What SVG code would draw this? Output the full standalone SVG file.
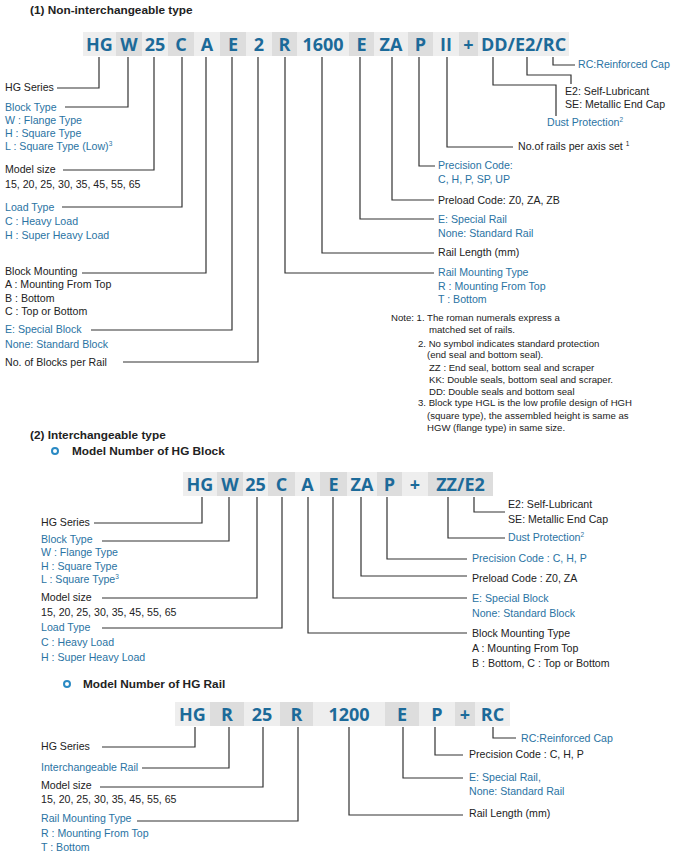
<svg xmlns="http://www.w3.org/2000/svg" width="674" height="856" viewBox="0 0 674 856">
<style>
.bg{fill:#ffffff}
.lt{fill:#eeeeee}
.dk{fill:#dddddd}
.code{font-family:"Open Sans","Liberation Sans",sans-serif;font-weight:700;font-size:18px;fill:#1c6a99;text-anchor:middle}
.lbl{font-family:"Liberation Sans",Arial,sans-serif;font-size:10.6px;fill:#222222}
.blu{fill:#2a73a3}
.note{font-family:"Liberation Sans",Arial,sans-serif;font-size:9.6px;fill:#222222}
.ttl{font-family:"Liberation Sans",Arial,sans-serif;font-size:11.8px;font-weight:700;fill:#222222}
.sup{font-size:6.5px}
.conn path{fill:none;stroke:#333333;stroke-width:1.2}
.bullet{fill:none;stroke:#2a8ac4;stroke-width:2}
</style>
<rect class="bg" x="0" y="0" width="674" height="856"/>

<g id="titles">
<text class="ttl" x="30" y="14">(1) Non-interchangeable type</text>
<text class="ttl" x="30" y="439">(2) Interchangeable type</text>
<circle class="bullet" cx="55" cy="451" r="3"/>
<text class="ttl" x="72" y="455">Model Number of HG Block</text>
<circle class="bullet" cx="67" cy="684" r="3"/>
<text class="ttl" x="83" y="688">Model Number of HG Rail</text>
</g>

<!-- Bar 1 -->
<g id="bar1">
<g id="b1-HG"><rect class="lt" x="83" y="32" width="33" height="24"/><text class="code" x="99.5" y="51">HG</text></g>
<g id="b1-W"><rect class="dk" x="116" y="32" width="26" height="24"/><text class="code" x="129" y="51">W</text></g>
<g id="b1-25"><rect class="lt" x="142" y="32" width="26" height="24"/><text class="code" x="155" y="51">25</text></g>
<g id="b1-C"><rect class="dk" x="168" y="32" width="26" height="24"/><text class="code" x="181" y="51">C</text></g>
<g id="b1-A"><rect class="lt" x="194" y="32" width="26" height="24"/><text class="code" x="207" y="51">A</text></g>
<g id="b1-E"><rect class="dk" x="220" y="32" width="26" height="24"/><text class="code" x="233" y="51">E</text></g>
<g id="b1-2"><rect class="lt" x="246" y="32" width="26" height="24"/><text class="code" x="259" y="51">2</text></g>
<g id="b1-R"><rect class="dk" x="272" y="32" width="25" height="24"/><text class="code" x="284.5" y="51">R</text></g>
<g id="b1-1600"><rect class="lt" x="297" y="32" width="52" height="24"/><text class="code" x="323" y="51">1600</text></g>
<g id="b1-E2"><rect class="dk" x="349" y="32" width="25" height="24"/><text class="code" x="361.5" y="51">E</text></g>
<g id="b1-ZA"><rect class="lt" x="374" y="32" width="34" height="24"/><text class="code" x="391" y="51">ZA</text></g>
<g id="b1-P"><rect class="dk" x="408" y="32" width="25" height="24"/><text class="code" x="420.5" y="51">P</text></g>
<g id="b1-II"><rect class="lt" x="433" y="32" width="26" height="24"/><text class="code" x="446" y="51">II</text></g>
<g id="b1-plus"><rect class="dk" x="459" y="32" width="19" height="24"/><text class="code" x="468.5" y="51">+</text></g>
<g id="b1-DD"><rect class="lt" x="478" y="32" width="91" height="24"/><text class="code" x="523.5" y="51">DD/E2/RC</text></g>
</g>

<g id="labels1">
<g id="l1-hg"><text class="lbl" x="5" y="91">HG Series</text></g>
<g id="l1-block">
<text class="lbl blu" x="5" y="110.5">Block  Type</text>
<text class="lbl blu" x="5" y="123.5">W : Flange  Type</text>
<text class="lbl blu" x="5" y="136.5">H : Square Type</text>
<text class="lbl blu" x="5" y="149.5">L : Square Type (Low)<tspan class="sup" dy="-4">3</tspan></text>
</g>
<g id="l1-size">
<text class="lbl" x="5" y="173">Model size</text>
<text class="lbl" x="5" y="188">15, 20, 25, 30, 35, 45, 55, 65</text>
</g>
<g id="l1-load">
<text class="lbl blu" x="5" y="210.5">Load Type</text>
<text class="lbl blu" x="5" y="225">C : Heavy Load</text>
<text class="lbl blu" x="5" y="238.5">H : Super Heavy Load</text>
</g>
<g id="l1-mount">
<text class="lbl" x="5" y="274.5">Block Mounting</text>
<text class="lbl" x="5" y="287.5">A : Mounting From Top</text>
<text class="lbl" x="5" y="301.5">B : Bottom</text>
<text class="lbl" x="5" y="314.5">C : Top or Bottom</text>
</g>
<g id="l1-special">
<text class="lbl blu" x="5" y="332.5">E: Special Block</text>
<text class="lbl blu" x="5" y="347.5">None: Standard Block</text>
</g>
<g id="l1-nblocks"><text class="lbl" x="5" y="365.5">No. of Blocks per Rail</text></g>

<g id="l1-rc"><text class="lbl blu" x="578" y="67.5">RC:Reinforced Cap</text></g>
<g id="l1-e2">
<text class="lbl" x="565" y="94.5">E2: Self-Lubricant</text>
<text class="lbl" x="565" y="107.5">SE: Metallic End Cap</text>
</g>
<g id="l1-dust"><text class="lbl blu" x="547" y="125.5">Dust Protection<tspan class="sup" dy="-4">2</tspan></text></g>
<g id="l1-rails"><text class="lbl" x="518" y="149.5">No.of rails per axis set <tspan class="sup" dy="-4">1</tspan></text></g>
<g id="l1-prec">
<text class="lbl blu" x="438" y="168.5">Precision Code:</text>
<text class="lbl blu" x="438" y="182.5">C, H, P, SP, UP</text>
</g>
<g id="l1-preload"><text class="lbl" x="438" y="203.5">Preload Code: Z0, ZA, ZB</text></g>
<g id="l1-srail">
<text class="lbl blu" x="438" y="222.5">E: Special Rail</text>
<text class="lbl blu" x="438" y="236.5">None: Standard Rail</text>
</g>
<g id="l1-len"><text class="lbl" x="438" y="255.5">Rail Length (mm)</text></g>
<g id="l1-rmount">
<text class="lbl blu" x="438" y="275.5">Rail Mounting Type</text>
<text class="lbl blu" x="438" y="290">R : Mounting From Top</text>
<text class="lbl blu" x="438" y="302.5">T : Bottom</text>
</g>
</g>

<g id="notes">
<text class="note" x="391" y="321">Note: 1. The roman numerals express a</text>
<text class="note" x="429" y="333">matched set of rails.</text>
<text class="note" x="418" y="347">2. No symbol indicates standard protection</text>
<text class="note" x="427" y="358">(end seal and bottom seal).</text>
<text class="note" x="429" y="371">ZZ : End seal, bottom seal and scraper</text>
<text class="note" x="429" y="383">KK: Double seals, bottom seal and scraper.</text>
<text class="note" x="429" y="395">DD: Double seals and bottom seal</text>
<text class="note" x="418" y="406">3. Block type HGL is the low profile design of HGH</text>
<text class="note" x="427" y="419">(square type), the assembled height is same as</text>
<text class="note" x="427" y="431">HGW (flange type) in same size.</text>
</g>

<!-- Bar 2 -->
<g id="bar2">
<g id="b2-HG"><rect class="lt" x="183" y="472" width="34" height="24"/><text class="code" x="200" y="491">HG</text></g>
<g id="b2-W"><rect class="dk" x="217" y="472" width="26" height="24"/><text class="code" x="230" y="491">W</text></g>
<g id="b2-25"><rect class="lt" x="243" y="472" width="25" height="24"/><text class="code" x="255.5" y="491">25</text></g>
<g id="b2-C"><rect class="dk" x="268" y="472" width="27" height="24"/><text class="code" x="281.5" y="491">C</text></g>
<g id="b2-A"><rect class="lt" x="295" y="472" width="25" height="24"/><text class="code" x="307.5" y="491">A</text></g>
<g id="b2-E"><rect class="dk" x="320" y="472" width="27" height="24"/><text class="code" x="333.5" y="491">E</text></g>
<g id="b2-ZA"><rect class="lt" x="347" y="472" width="30" height="24"/><text class="code" x="362" y="491">ZA</text></g>
<g id="b2-P"><rect class="dk" x="377" y="472" width="25" height="24"/><text class="code" x="389.5" y="491">P</text></g>
<g id="b2-plus"><rect class="lt" x="402" y="472" width="26" height="24"/><text class="code" x="415" y="491">+</text></g>
<g id="b2-ZZ"><rect class="dk" x="428" y="472" width="65" height="24"/><text class="code" x="460.5" y="491">ZZ/E2</text></g>
</g>

<g id="labels2">
<g id="l2-hg"><text class="lbl" x="41" y="525.5">HG Series</text></g>
<g id="l2-block">
<text class="lbl blu" x="41" y="542.5">Block  Type</text>
<text class="lbl blu" x="41" y="555.5">W : Flange  Type</text>
<text class="lbl blu" x="41" y="570">H : Square Type</text>
<text class="lbl blu" x="41" y="582.5">L : Square Type<tspan class="sup" dy="-4">3</tspan></text>
</g>
<g id="l2-size">
<text class="lbl" x="41" y="600.5">Model size</text>
<text class="lbl" x="41" y="615.5">15, 20, 25, 30, 35, 45, 55, 65</text>
</g>
<g id="l2-load">
<text class="lbl blu" x="41" y="630.5">Load Type</text>
<text class="lbl blu" x="41" y="645.5">C : Heavy Load</text>
<text class="lbl blu" x="41" y="660.5">H : Super Heavy Load</text>
</g>
<g id="l2-e2">
<text class="lbl" x="508" y="507.5">E2: Self-Lubricant</text>
<text class="lbl" x="508" y="522.5">SE: Metallic End Cap</text>
</g>
<g id="l2-dust"><text class="lbl blu" x="508" y="540.5">Dust Protection<tspan class="sup" dy="-4">2</tspan></text></g>
<g id="l2-prec"><text class="lbl blu" x="472" y="561.5">Precision Code : C, H, P</text></g>
<g id="l2-preload"><text class="lbl" x="472" y="581.5">Preload Code : Z0, ZA</text></g>
<g id="l2-special">
<text class="lbl blu" x="472" y="601.5">E: Special Block</text>
<text class="lbl blu" x="472" y="616.5">None: Standard Block</text>
</g>
<g id="l2-mount">
<text class="lbl" x="472" y="636.5">Block Mounting Type</text>
<text class="lbl" x="472" y="651.5">A : Mounting From Top</text>
<text class="lbl" x="472" y="666.5">B : Bottom, C : Top or Bottom</text>
</g>
</g>

<!-- Bar 3 -->
<g id="bar3">
<g id="b3-HG"><rect class="lt" x="175" y="702" width="35" height="24"/><text class="code" x="192.5" y="721">HG</text></g>
<g id="b3-R"><rect class="dk" x="210" y="702" width="34" height="24"/><text class="code" x="227" y="721">R</text></g>
<g id="b3-25"><rect class="lt" x="244" y="702" width="36" height="24"/><text class="code" x="262" y="721">25</text></g>
<g id="b3-R2"><rect class="dk" x="280" y="702" width="33" height="24"/><text class="code" x="296.5" y="721">R</text></g>
<g id="b3-1200"><rect class="lt" x="313" y="702" width="72" height="24"/><text class="code" x="349" y="721">1200</text></g>
<g id="b3-E"><rect class="dk" x="385" y="702" width="34" height="24"/><text class="code" x="402" y="721">E</text></g>
<g id="b3-P"><rect class="lt" x="419" y="702" width="36" height="24"/><text class="code" x="437" y="721">P</text></g>
<g id="b3-plus"><rect class="dk" x="455" y="702" width="20" height="24"/><text class="code" x="465" y="721">+</text></g>
<g id="b3-RC"><rect class="lt" x="475" y="702" width="35" height="24"/><text class="code" x="492.5" y="721">RC</text></g>
</g>

<g id="labels3">
<g id="l3-hg"><text class="lbl" x="41" y="749.5">HG Series</text></g>
<g id="l3-irail"><text class="lbl blu" x="41" y="770.5">Interchangeable Rail</text></g>
<g id="l3-size">
<text class="lbl" x="41" y="788.5">Model size</text>
<text class="lbl" x="41" y="802.5">15, 20, 25, 30, 35, 45, 55, 65</text>
</g>
<g id="l3-rmount">
<text class="lbl blu" x="41" y="821.5">Rail Mounting Type</text>
<text class="lbl blu" x="41" y="836.5">R : Mounting From Top</text>
<text class="lbl blu" x="41" y="850.5">T : Bottom</text>
</g>
<g id="l3-rc"><text class="lbl blu" x="521" y="741.5">RC:Reinforced Cap</text></g>
<g id="l3-prec"><text class="lbl" x="469" y="757.5">Precision Code : C, H, P</text></g>
<g id="l3-special">
<text class="lbl blu" x="469" y="780.5">E: Special Rail,</text>
<text class="lbl blu" x="469" y="794.5">None: Standard Rail</text>
</g>
<g id="l3-len"><text class="lbl" x="469" y="816.5">Rail Length (mm)</text></g>
</g>

<g id="connectors" class="conn">
<path d="M99 57V88H57"/>
<path d="M128 57V107H65"/>
<path d="M154 57V170H63"/>
<path d="M182 57V207H62"/>
<path d="M206 57V273H82"/>
<path d="M232 57V330H91"/>
<path d="M258 57V362H123"/>
<path d="M285 57V273H434"/>
<path d="M322 57V253H434"/>
<path d="M360 57V219H434"/>
<path d="M392 57V200H434"/>
<path d="M419 57V166H435"/>
<path d="M447 57V147H513"/>
<path d="M493 57V85H556V116"/>
<path d="M527 57V75H571V84"/>
<path d="M553 57V65H575"/>

<path d="M202 497V523H94"/>
<path d="M229 497V541H102"/>
<path d="M257 497V598H102"/>
<path d="M282 497V628H102"/>
<path d="M308 497V633H467"/>
<path d="M333 497V598H467"/>
<path d="M361 497V576H467"/>
<path d="M387 497V559H467"/>
<path d="M448 497V538H505"/>
<path d="M474 497V512H505"/>

<path d="M195 727V747H102"/>
<path d="M229 727V768H142"/>
<path d="M263 727V787H100"/>
<path d="M298 727V821H137"/>
<path d="M349 727V815H463"/>
<path d="M403 727V778H463"/>
<path d="M435 727V755H463"/>
<path d="M493 727V738H516"/>
</g>
</svg>
